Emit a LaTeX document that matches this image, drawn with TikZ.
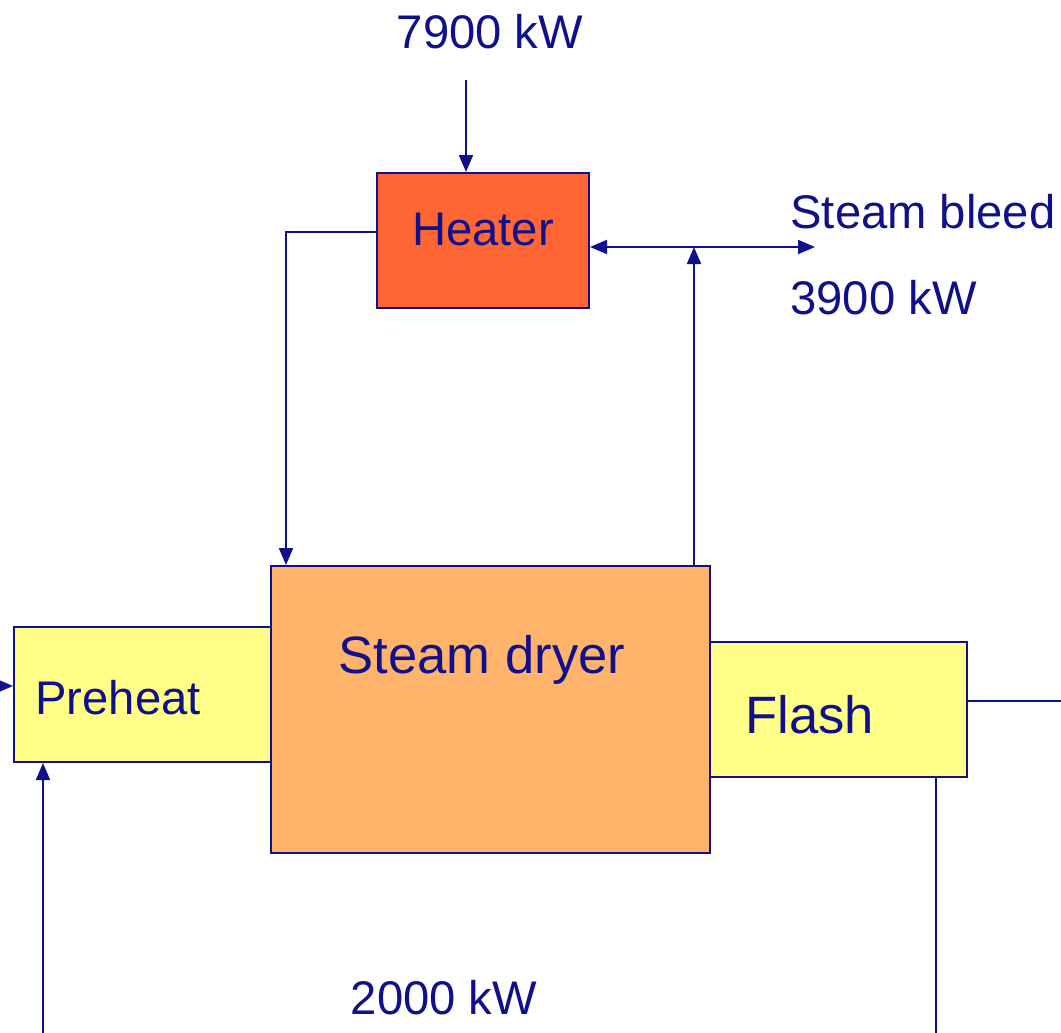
\documentclass[tikz,border=0pt]{standalone}
\usepackage{fontspec}
\setmainfont{Liberation Sans}
\usetikzlibrary{arrows.meta,positioning,calc}
\definecolor{navy}{RGB}{16,16,140}
\definecolor{heaterfill}{RGB}{255,102,51}
\definecolor{dryerfill}{RGB}{255,179,107}
\definecolor{palefill}{RGB}{255,255,136}

\begin{document}
\begin{tikzpicture}[x=0.5pt, y=-0.5pt, >={Triangle[width=7pt,length=8.5pt]}]
        \tikzset{
            unit/.style={draw=navy, line width=1pt, rectangle, anchor=north west, inner sep=0pt},
            txt/.style={text=navy, inner sep=0pt, font=\fontsize{23.6}{28}\selectfont},
            bigtxt/.style={txt, font=\fontsize{26.3}{31}\selectfont},
            flow/.style={draw=navy, line width=1pt}
        }
        \useasboundingbox (0,0) rectangle (1061,1033);

        % Units
        \node [unit, fill=heaterfill, minimum width=106pt, minimum height=67.5pt,
               label={[txt, yshift=5.75pt]center:Heater}] (heater) at (376,172) {};
        \node [unit, fill=dryerfill, minimum width=219.5pt, minimum height=143.5pt,
               label={[bigtxt, xshift=-4.25pt, yshift=25pt]center:Steam dryer}] (dryer) at (270,565) {};
        \node [unit, fill=palefill, minimum width=128.5pt, minimum height=67.5pt,
               label={[txt, xshift=-12.25pt, yshift=-1.75pt]center:Preheat}] (preheat) at (13,626) {};
        \node [unit, fill=palefill, minimum width=128.5pt, minimum height=67.5pt,
               label={[bigtxt, xshift=-14.5pt, yshift=-2.75pt]center:Flash}] (flash) at (709,641) {};

        % Duties
        \node [txt] (qheat) at (490,32) {7900 kW};
        \node [txt, anchor=west] (bleedtxt) at (790,212) {Steam bleed};
        \node [txt, anchor=west] (qbleed) at (790,298) {3900 kW};
        \node [txt] (qflash) at (444,998) {2000 kW};

        % Free ends
        \coordinate (qin) at (466,80);
        \coordinate (bleed) at (815,247);
        \coordinate (riser) at (694,247);
        \coordinate (drop) at (286,232);
        \coordinate (feed) at (0,686);
        \coordinate (recyc) at (43,1033);
        \coordinate (fout) at (1061,701);
        \coordinate (cond) at (936,1033);

        % Connections
        \draw [flow, ->] (qin) -- (qin |- heater.north);
        \draw [flow, <->] (heater.east |- bleed) -- (bleed);
        \draw [flow, ->] (riser |- dryer.north) -- (riser);
        \draw [flow, ->] (heater.west |- drop) -- (drop) -- (drop |- dryer.north);
        \draw [flow, ->] (feed) -- (feed -| preheat.west);
        \draw [flow, ->] (recyc) -- (recyc |- preheat.south);
        \draw [flow] (flash.east |- fout) -- (fout);
        \draw [flow] (cond |- flash.south) -- (cond);
    \end{tikzpicture}
\end{document}
